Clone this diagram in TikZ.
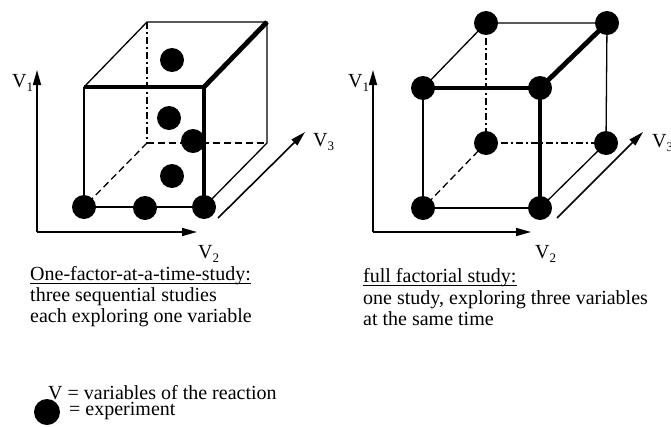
\documentclass[tikz,border=0pt]{standalone}
\usepackage{fontspec}
\setmainfont{Liberation Serif}
\usetikzlibrary{arrows.meta}
\begin{document}
\begin{tikzpicture}[x=1pt,y=-1pt,
  thinedge/.style={line width=1.3pt},
  thickedge/.style={line width=4.8pt},
  hidden/.style={line width=1.3pt,dash pattern=on 7pt off 3pt on 2pt off 3pt},
  hiddendash/.style={line width=1.3pt,dash pattern=on 7pt off 4pt},
  axis/.style={line width=1.6pt,-{Triangle[length=15pt,width=8pt]}},
  dot/.style={circle,fill=black,inner sep=0pt,minimum size=24pt},
  txt/.style={inner sep=0pt,anchor=base west,font=\fontsize{20}{22}\selectfont},
  lab/.style={inner sep=0pt,anchor=base west,font=\fontsize{20}{22}\selectfont}]
\useasboundingbox (0,0) rectangle (671,426);
\newcommand{\sub}[1]{\raisebox{-4.5pt}{\fontsize{13}{13}\selectfont #1}}
% ---------- left cube ----------
\coordinate (LA) at (84,207);
\coordinate (LB) at (204,207);
\coordinate (LC) at (204,87);
\coordinate (LD) at (84,87);
\coordinate (LE) at (147,143);
\coordinate (LF) at (267,143);
\coordinate (LG) at (267,22);
\coordinate (LH) at (147,22);
\draw[hidden] (LH) -- (LE);
\draw[hiddendash] (LE) -- (LF);
\draw[hiddendash] (LE) -- (LA);
\draw[thinedge] (LD) -- (LA) -- (LB);
\draw[thinedge] (LD) -- (LH) -- (LG) -- (LF) -- (LB);
\draw[thickedge] (LD) -- (LC) -- (LB);
\draw[thickedge] (LC) -- (LG);
\node[dot] (l1) at (LA) {};
\node[dot] (l2) at (145,208) {};
\node[dot] (l3) at (LB) {};
\node[dot] (l4) at (193,141) {};
\node[dot] (l5) at (169,118) {};
\node[dot] (l6) at (172,176) {};
\node[dot] (l7) at (172,60) {};
% left axes
\coordinate (LO) at (37,232);
\coordinate (LV1) at (37,70);
\coordinate (LV2) at (197,232);
\coordinate (LV3a) at (218,218);
\coordinate (LV3b) at (305,132);
\draw[axis] (LO) -- (LV1);
\draw[axis] (LO) -- (LV2);
\draw[axis] (LV3a) -- (LV3b);
\node[lab] (lv1) at (12,87) {V\sub{1}};
\node[lab] (lv2) at (198,258) {V\sub{2}};
\node[lab] (lv3) at (313,146) {V\sub{3}};
% ---------- right cube ----------
\coordinate (RA) at (423,208);
\coordinate (RB) at (540,208);
\coordinate (RC) at (540,88);
\coordinate (RD) at (423,88);
\coordinate (RE) at (486,143);
\coordinate (RF) at (606,143);
\coordinate (RG) at (607,23);
\coordinate (RH) at (486,23);
\draw[hidden] (RH) -- (RE);
\draw[hidden] (RE) -- (RF);
\draw[hiddendash] (RE) -- (RA);
\draw[thinedge] (RD) -- (RA) -- (RB);
\draw[thinedge] (RD) -- (RH) -- (RG) -- (RF) -- (RB);
\draw[thickedge] (RD) -- (RC) -- (RB);
\draw[thickedge] (RC) -- (RG);
\foreach \c in {RA,RB,RC,RD,RE,RF,RG,RH}{\node[dot] (d\c) at (\c) {};}
% right axes
\coordinate (RO) at (373,232);
\coordinate (RV1) at (373,70);
\coordinate (RV2) at (531,232);
\coordinate (RV3a) at (557,218);
\coordinate (RV3b) at (643,132);
\draw[axis] (RO) -- (RV1);
\draw[axis] (RO) -- (RV2);
\draw[axis] (RV3a) -- (RV3b);
\node[lab] (rv1) at (348,87) {V\sub{1}};
\node[lab] (rv2) at (535,258) {V\sub{2}};
\node[lab] (rv3) at (652,147) {V\sub{3}};
% ---------- texts ----------
\node[txt] (t1) at (30,280) {One-factor-at-a-time-study:};
\draw[line width=0.9pt] ([yshift=-3.5pt]t1.base west) -- ([yshift=-3.5pt]t1.base east);
\node[txt] (t2) at (30,301) {three sequential studies};
\node[txt] (t3) at (30,322) {each exploring one variable};
\node[txt] (r1) at (363,282) {full factorial study:};
\draw[line width=0.9pt] ([yshift=-3.5pt]r1.base west) -- ([yshift=-3.5pt]r1.base east);
\node[txt] (r2) at (363,304) {one study, exploring three variables};
\node[txt] (r3) at (363,325) {at the same time};
% legend
\node[txt] (g1) at (48,399) {V = variables of the reaction};
\node[dot,minimum size=26pt] (gd) at (47,412) {};
\node[txt] (g2) at (69,415) {= experiment};
\end{tikzpicture}
\end{document}
